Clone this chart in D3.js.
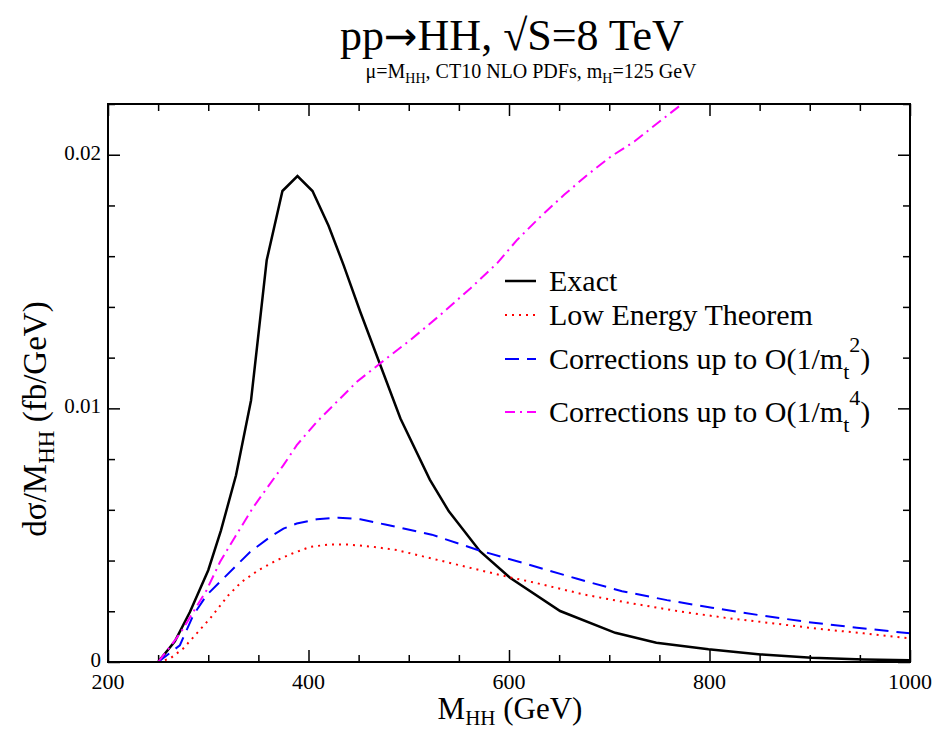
<!DOCTYPE html>
<html>
<head>
<meta charset="utf-8">
<script src="https://cdn.jsdelivr.net/npm/d3@7"></script>
<style>
  body { margin: 0; background: #fff; }
  svg text { font-family: "Liberation Serif", "Times New Roman", serif; fill: #000; }
</style>
</head>
<body>
<div id="chart"></div>
<script>
// values (M_HH in GeV, dsigma/dM in fb/GeV)
const exactX = [250, 266.7, 281.7, 300, 312.7, 327.7, 342.7, 358.3, 374, 389, 404, 420, 435, 451.7, 471.7, 491.7, 521, 540, 571, 601, 651, 706, 747, 799, 851, 902, 954, 1000]
const exactY = [0, 0.00082, 0.00197, 0.00362, 0.00519, 0.00736, 0.01032, 0.01584, 0.01857, 0.01916, 0.01857, 0.0172, 0.01565, 0.0138, 0.0117, 0.0096, 0.00719, 0.00594, 0.00437, 0.00332, 0.00201, 0.00115, 0.00076, 0.0005, 0.0003, 0.00017, 0.0001, 0.00007]

const letX = [250, 261.7, 275, 288.3, 301.7, 320, 333.3, 350, 368.3, 383.3, 401.7, 420, 440, 465, 488.3, 523, 571, 600.7, 626.6, 674.8, 719.7, 768, 816, 864.5, 912.8, 954, 1000]
const letY = [0, 0.00013, 0.00053, 0.00112, 0.00171, 0.00263, 0.00316, 0.00362, 0.00401, 0.00427, 0.00454, 0.00463, 0.00463, 0.00454, 0.00441, 0.00408, 0.00362, 0.00334, 0.00312, 0.00266, 0.00233, 0.00201, 0.00174, 0.00152, 0.00129, 0.00113, 0.00093]

const mt2X = [250, 271.7, 285, 298.3, 311.7, 326.7, 341.7, 361.7, 375, 388.3, 408.3, 430, 451.7, 476.6, 523, 571, 619.7, 668, 712.8, 757.6, 802.4, 850.7, 899, 947, 1000]
const mt2Y = [0, 0.00066, 0.00184, 0.00263, 0.00316, 0.00375, 0.00434, 0.00493, 0.00526, 0.00546, 0.00563, 0.00569, 0.00563, 0.00542, 0.00502, 0.00439, 0.00384, 0.00328, 0.00279, 0.00244, 0.00214, 0.00184, 0.00157, 0.00135, 0.00113]

const mt4X = [250, 268, 275, 298.3, 311.7, 326.7, 345, 358.3, 375, 388.3, 408.3, 428.3, 448.3, 471.7, 501.7, 531.7, 561.7, 588.3, 608.3, 631.7, 655, 678.3, 701.7, 725, 748.3, 771.7, 780]
const mt4Y = [0, 0.00092, 0.00132, 0.00283, 0.00394, 0.00493, 0.00611, 0.00684, 0.00776, 0.00855, 0.00947, 0.01026, 0.01105, 0.01178, 0.0127, 0.01369, 0.01474, 0.01573, 0.01665, 0.01757, 0.01842, 0.01921, 0.01993, 0.02052, 0.02125, 0.02197, 0.0222]

const xTicks = [200, 400, 600, 800, 1000]
const yTicks = [0, 0.01, 0.02]
const yTickLabels = ['0', '0.01', '0.02']

const margin = { top: 104, right: 22, bottom: 70, left: 108 }
const W = 932, H = 732
const width = W - margin.left - margin.right
const height = H - margin.top - margin.bottom

const svg = d3.select('#chart').append('svg')
    .attr('width', W)
    .attr('height', H)

const g = svg.append('g')
    .attr('transform', `translate(${margin.left}, ${margin.top})`)

const x = d3.scaleLinear().domain([200, 1000]).range([0, width])
const y = d3.scaleLinear().domain([0, 0.022]).range([height, 0])

g.append('clipPath').attr('id', 'clip')
    .append('rect').attr('width', width).attr('height', height)

// ticks (inward, all four sides)
const minorX = d3.range(200, 1001, 50).filter(v => v % 200 !== 0)
const minorY = d3.range(0, 0.0221, 0.002).filter((v, i) => i % 5 !== 0)

function tickGroup(axis, sel) {
    sel.call(axis)
    sel.select('.domain').remove()
    sel.selectAll('line').attr('stroke', '#000').attr('stroke-width', 1.5)
    sel.selectAll('text').remove()
}

tickGroup(d3.axisBottom(x).tickValues(xTicks).tickSize(-12), g.append('g').attr('transform', `translate(0,${height})`))
tickGroup(d3.axisBottom(x).tickValues(minorX).tickSize(-7), g.append('g').attr('transform', `translate(0,${height})`))
tickGroup(d3.axisTop(x).tickValues(xTicks).tickSize(-12), g.append('g'))
tickGroup(d3.axisTop(x).tickValues(minorX).tickSize(-7), g.append('g'))
tickGroup(d3.axisLeft(y).tickValues(yTicks).tickSize(-12), g.append('g'))
tickGroup(d3.axisLeft(y).tickValues(minorY).tickSize(-7), g.append('g'))
tickGroup(d3.axisRight(y).tickValues(yTicks).tickSize(-12), g.append('g').attr('transform', `translate(${width},0)`))
tickGroup(d3.axisRight(y).tickValues(minorY).tickSize(-7), g.append('g').attr('transform', `translate(${width},0)`))

// tick labels
g.selectAll('.xlab').data(xTicks).enter().append('text')
    .attr('x', d => x(d)).attr('y', height + 27)
    .attr('text-anchor', 'middle').style('font-size', '22px')
    .text(d => d)

g.selectAll('.ylab').data(yTicks).enter().append('text')
    .attr('x', -7).attr('y', d => y(d) + 5)
    .attr('text-anchor', 'end').style('font-size', '21px')
    .text((d, i) => yTickLabels[i])

// curves
const series = [
    { xs: exactX, ys: exactY, color: '#000000', dash: null, width: 2.5, name: 'Exact' },
    { xs: letX, ys: letY, color: '#ff0000', dash: '2,5', width: 2, name: 'Low Energy Theorem' },
    { xs: mt2X, ys: mt2Y, color: '#0000ff', dash: '14,8', width: 2, name: 'Corrections up to O(1/m', sup: '2' },
    { xs: mt4X, ys: mt4Y, color: '#ff00ff', dash: '11,5,2,5', width: 2, name: 'Corrections up to O(1/m', sup: '4' }
]

const line = d3.line().x(p => x(p[0])).y(p => y(p[1]))

g.append('g').attr('clip-path', 'url(#clip)')
    .selectAll('path').data(series).enter().append('path')
    .attr('d', s => line(s.xs.map((v, i) => [v, s.ys[i]])))
    .attr('fill', 'none')
    .attr('stroke', s => s.color)
    .attr('stroke-width', s => s.width)
    .attr('stroke-dasharray', s => s.dash)

// frame
g.append('rect').attr('width', width).attr('height', height)
    .attr('fill', 'none').attr('stroke', '#000').attr('stroke-width', 2)

// legend
const legendRows = [177, 211, 255, 308]
const leg = g.append('g').attr('transform', `translate(397, 0)`)
series.forEach((s, i) => {
    leg.append('line')
        .attr('x1', 0).attr('x2', 31)
        .attr('y1', legendRows[i]).attr('y2', legendRows[i])
        .attr('stroke', s.color).attr('stroke-width', s.width)
        .attr('stroke-dasharray', i === 3 ? '10,5,2,5' : s.dash)
    const t = leg.append('text')
        .attr('x', 44).attr('y', legendRows[i] + 10)
        .style('font-size', '30px')
    t.append('tspan').text(s.name)
    if (s.sup) {
        t.append('tspan').attr('dy', 10).style('font-size', '22px').text('t')
        t.append('tspan').attr('dy', -27).style('font-size', '22px').text(s.sup)
        t.append('tspan').attr('dy', 17).text(')')
    }
})

// titles
const title = svg.append('text').attr('x', 512).attr('y', 50)
    .attr('text-anchor', 'middle').style('font-size', '44px')
title.append('tspan').text('pp')
title.append('tspan').style('font-family', '"DejaVu Sans"').style('font-size', '40px').text('\u2192')
title.append('tspan').text('HH, \u221AS=8 TeV')

const sub = svg.append('text').attr('x', 531).attr('y', 78)
    .attr('text-anchor', 'middle').style('font-size', '20px')
sub.append('tspan').text('\u03BC=M')
sub.append('tspan').attr('dy', 5).style('font-size', '14px').text('HH')
sub.append('tspan').attr('dy', -5).text(', CT10 NLO PDFs, m')
sub.append('tspan').attr('dy', 5).style('font-size', '14px').text('H')
sub.append('tspan').attr('dy', -5).text('=125 GeV')

const xt = svg.append('text').attr('x', 510).attr('y', 719)
    .attr('text-anchor', 'middle').style('font-size', '31px')
xt.append('tspan').text('M')
xt.append('tspan').attr('dy', 6).style('font-size', '21px').text('HH')
xt.append('tspan').attr('dy', -6).text(' (GeV)')

const yt = svg.append('text')
    .attr('transform', `translate(46, ${margin.top + height / 2 + 36}) rotate(-90)`)
    .attr('text-anchor', 'middle').style('font-size', '33px')
yt.append('tspan').text('d\u03C3/M')
yt.append('tspan').attr('dy', 8).style('font-size', '23px').text('HH')
yt.append('tspan').attr('dy', -8).text(' (fb/GeV)')
</script>
</body>
</html>
